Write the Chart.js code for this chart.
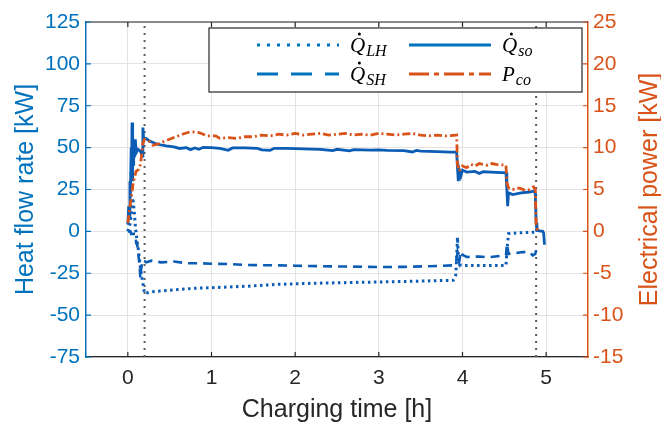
<!DOCTYPE html>
<html>
<head>
<meta charset="utf-8">
<script src="https://cdn.jsdelivr.net/npm/chart.js@4.4.1/dist/chart.umd.min.js"></script>
<style>
  html, body { margin: 0; padding: 0; background: #fff; }
  canvas { display: block; }
</style>
</head>
<body>
<canvas id="chart" width="661" height="423"></canvas>
<script>
// Axis ticks
const xTicks = [0, 1, 2, 3, 4, 5];
const markerTimes = [0.2, 4.88];   // dotted vertical markers [h]

// Q_so (solid) [kW]
const soTime  = [0, 0.01, 0.02, 0.025, 0.03, 0.04, 0.045, 0.05, 0.055, 0.06, 0.065, 0.07, 0.08, 0.09, 0.1, 0.12, 0.15, 0.17, 0.18, 0.19, 0.2, 0.26, 0.35, 0.46, 0.55, 0.62, 0.7, 0.75, 0.8, 0.85, 0.9, 1.0, 1.1, 1.2, 1.25, 1.4, 1.55, 1.6, 1.7, 1.75, 1.9, 2.1, 2.3, 2.45, 2.5, 2.65, 2.7, 2.9, 3.0, 3.1, 3.3, 3.4, 3.45, 3.5, 3.7, 3.85, 3.93, 3.94, 3.95, 3.96, 3.98, 4.0, 4.05, 4.15, 4.2, 4.25, 4.4, 4.52, 4.53, 4.54, 4.55, 4.6, 4.7, 4.8, 4.85, 4.87, 4.88, 4.89, 4.96, 4.97, 4.98];
const soValue = [4, 15, 8, 30, 20, 50, 35, 65, 30, 58, 40, 52, 45, 55, 47, 49, 48, 45, 62, 55, 56, 54, 52, 51, 50.5, 49.5, 50, 48.8, 49.8, 49, 50.2, 50, 49.5, 48.4, 49.8, 49.9, 49.5, 48.7, 48.4, 49.6, 49.5, 49.2, 49, 48.2, 49, 48.1, 48.8, 48.5, 48.7, 48.3, 48.2, 47.4, 48.3, 47.9, 47.6, 47.3, 47.3, 38, 30, 37, 33, 36.5, 35.4, 35.8, 34.6, 35.6, 35.2, 35, 25, 15, 23, 22, 23, 23.5, 24, 23, 5, 0.5, 0, -1, -8];

// Q_SH (dashed) [kW]
const shTime  = [0, 0.03, 0.04, 0.09, 0.1, 0.11, 0.14, 0.15, 0.16, 0.18, 0.22, 0.28, 0.4, 0.55, 0.7, 0.85, 1.0, 1.2, 1.4, 1.6, 1.8, 2.0, 2.3, 2.6, 3.0, 3.3, 3.6, 3.89, 3.92, 3.94, 3.96, 3.98, 4.0, 4.05, 4.2, 4.3, 4.52, 4.53, 4.55, 4.6, 4.72, 4.8, 4.84, 4.87, 4.88];
const shValue = [0, 0, -1.5, -1.5, -7, -7, -20, -28, -22, -17, -18.5, -17.5, -18.5, -18, -19, -19, -19.3, -19.5, -20, -20.2, -20.3, -20.5, -20.8, -21, -21.3, -21.2, -20.8, -20.3, -19, -13, -18, -12, -14, -15.3, -15, -15.5, -14.3, -7.5, -13.5, -13.2, -12.3, -12.5, -14.3, -13.5, -11.3];

// Q_LH (dotted) [kW]
const lhTime  = [0, 0.03, 0.06, 0.08, 0.09, 0.11, 0.13, 0.15, 0.17, 0.2, 0.3, 0.42, 0.6, 0.8, 1.0, 1.4, 1.8, 2.2, 2.6, 3.0, 3.4, 3.89, 3.92, 3.94, 3.95, 3.97, 4.0, 4.2, 4.52, 4.53, 4.55, 4.7, 4.88];
const lhValue = [0, 5, 20, 10, 3, -6, -12, -22, -28, -37, -36, -35.5, -34.7, -34, -33.6, -32.8, -31.6, -31, -30.6, -30.2, -29.8, -29.2, -26, -3.5, -15, -20, -20.3, -20.3, -20.3, -12, -1.4, -0.8, -0.4];

// P_co (dash-dot, right axis) [kW]
const coTime  = [0, 0.02, 0.04, 0.06, 0.08, 0.1, 0.13, 0.15, 0.17, 0.18, 0.2, 0.25, 0.3, 0.35, 0.45, 0.55, 0.65, 0.75, 0.85, 0.95, 1.05, 1.1, 1.2, 1.3, 1.4, 1.5, 1.6, 1.7, 1.8, 1.9, 2.0, 2.1, 2.2, 2.3, 2.4, 2.5, 2.6, 2.7, 2.8, 2.9, 3.0, 3.1, 3.2, 3.3, 3.4, 3.5, 3.6, 3.7, 3.8, 3.93, 3.94, 3.96, 4.0, 4.05, 4.1, 4.15, 4.2, 4.3, 4.35, 4.4, 4.52, 4.53, 4.55, 4.6, 4.65, 4.7, 4.75, 4.8, 4.85, 4.87, 4.88, 4.9, 4.92];
const coValue = [1, 2.5, 4, 5.5, 6.5, 7.2, 7.4, 8, 9.5, 10.5, 11, 10.8, 10.3, 10.4, 10.8, 11.2, 11.6, 11.9, 11.8, 11.4, 11.4, 11.1, 11.2, 11.1, 11.3, 11.3, 11.5, 11.4, 11.6, 11.5, 11.7, 11.5, 11.6, 11.7, 11.5, 11.6, 11.7, 11.5, 11.6, 11.5, 11.7, 11.6, 11.5, 11.6, 11.7, 11.5, 11.4, 11.5, 11.4, 11.5, 8, 7.2, 7.8, 7.6, 8, 7.8, 8.1, 7.9, 8.1, 8, 7.9, 5.8, 5.2, 5, 5.2, 5.1, 4.9, 5, 5.3, 5, 0.8, 0.2, 0.2];

const BLUE = '#0b5cb5';
const AXIS_BLUE = '#0072bd';
const ORANGE = '#d95319';
const DARK = '#262626';
const FONT = "'Liberation Sans', Arial, sans-serif";

const pts = (t, v) => t.map((x, i) => ({ x: x, y: v[i] }));

const markerSets = markerTimes.map(t => ({
    data: [{ x: t, y: -75 }, { x: t, y: 125 }],
    yAxisID: 'y',
    borderColor: '#5a5a5a',
    borderWidth: 2,
    borderDash: [2, 5],
    pointRadius: 0
}));

// MATLAB style inward ticks, box top edge and right axis title
const axesDecor = {
    id: 'axesDecor',
    afterDraw(chart) {
        const { ctx, chartArea: a, scales } = chart;
        ctx.save();
        ctx.lineWidth = 1.2;

        ctx.strokeStyle = DARK;
        ctx.beginPath();
        ctx.moveTo(a.left, a.top);
        ctx.lineTo(a.right, a.top);
        scales.x.ticks.forEach(t => {
            const px = scales.x.getPixelForValue(t.value);
            ctx.moveTo(px, a.bottom); ctx.lineTo(px, a.bottom - 5);
            ctx.moveTo(px, a.top); ctx.lineTo(px, a.top + 5);
        });
        ctx.stroke();

        ctx.strokeStyle = AXIS_BLUE;
        ctx.beginPath();
        scales.y.ticks.forEach(t => {
            const py = scales.y.getPixelForValue(t.value);
            ctx.moveTo(a.left, py); ctx.lineTo(a.left + 5, py);
        });
        ctx.stroke();

        ctx.strokeStyle = ORANGE;
        ctx.beginPath();
        scales.y1.ticks.forEach(t => {
            const py = scales.y1.getPixelForValue(t.value);
            ctx.moveTo(a.right, py); ctx.lineTo(a.right - 5, py);
        });
        ctx.stroke();

        // right title reads bottom-to-top
        ctx.translate(650, (a.top + a.bottom) / 2);
        ctx.rotate(-Math.PI / 2);
        ctx.fillStyle = ORANGE;
        ctx.font = '25px ' + FONT;
        ctx.textAlign = 'center';
        ctx.textBaseline = 'middle';
        ctx.fillText('Electrical power [kW]', 0, 0);
        ctx.restore();
    }
};

// legend with math-style labels
const mathLegend = {
    id: 'mathLegend',
    afterDraw(chart) {
        const ctx = chart.ctx;
        ctx.save();
        ctx.fillStyle = '#fff';
        ctx.fillRect(209, 28, 373, 64);
        ctx.strokeStyle = DARK;
        ctx.lineWidth = 1.2;
        ctx.strokeRect(209, 28, 373, 64);

        const items = [
            { x: 257, y: 45, color: AXIS_BLUE, dash: [3, 7], main: 'Q', sub: 'LH', dot: true },
            { x: 409, y: 45, color: AXIS_BLUE, dash: [], main: 'Q', sub: 'so', dot: true },
            { x: 257, y: 74, color: AXIS_BLUE, dash: [21, 13], main: 'Q', sub: 'SH', dot: true },
            { x: 409, y: 74, color: ORANGE, dash: [20, 5, 5, 5], main: 'P', sub: 'co', dot: false }
        ];
        items.forEach(it => {
            ctx.strokeStyle = it.color;
            ctx.lineWidth = 3;
            ctx.setLineDash(it.dash);
            ctx.beginPath();
            ctx.moveTo(it.x, it.y);
            ctx.lineTo(it.x + 82, it.y);
            ctx.stroke();
            ctx.setLineDash([]);

            const tx = it.x + 93;
            const base = it.y + 7;
            ctx.fillStyle = '#000';
            ctx.textBaseline = 'alphabetic';
            ctx.textAlign = 'left';
            ctx.font = "italic 21px 'Liberation Serif', 'DejaVu Serif', serif";
            ctx.fillText(it.main, tx, base);
            const w = ctx.measureText(it.main).width;
            if (it.dot) {
                ctx.beginPath();
                ctx.arc(tx + w * 0.62, base - 18, 1.5, 0, Math.PI * 2);
                ctx.fill();
            }
            ctx.font = "italic 16px 'Liberation Serif', 'DejaVu Serif', serif";
            ctx.fillText(it.sub, tx + w + 1, base + 4);
        });
        ctx.restore();
    }
};

new Chart(document.getElementById('chart'), {
    type: 'line',
    data: {
        datasets: [
            { label: 'P_co', data: pts(coTime, coValue), yAxisID: 'y1', borderColor: ORANGE, borderWidth: 2.8, borderDash: [8, 3, 2, 3], pointRadius: 0 },
            { label: 'Q_so', data: pts(soTime, soValue), yAxisID: 'y', borderColor: BLUE, borderWidth: 2.8, pointRadius: 0 },
            { label: 'Q_SH', data: pts(shTime, shValue), yAxisID: 'y', borderColor: BLUE, borderWidth: 2.6, borderDash: [9, 6], pointRadius: 0 },
            { label: 'Q_LH', data: pts(lhTime, lhValue), yAxisID: 'y', borderColor: BLUE, borderWidth: 3, borderDash: [2.5, 3.5], pointRadius: 0 },
            ...markerSets
        ]
    },
    options: {
        responsive: false,
        animation: false,
        devicePixelRatio: 1,
        layout: { padding: { top: 22, left: 0, right: 0, bottom: 0 } },
        plugins: {
            legend: { display: false },
            tooltip: { enabled: false }
        },
        scales: {
            x: {
                type: 'linear',
                min: -0.5,
                max: 5.5,
                afterBuildTicks: s => { s.ticks = xTicks.map(v => ({ value: v })); },
                afterFit: s => { s.height = 66; },
                grid: { color: '#e3e3e3', lineWidth: 1, drawTicks: false },
                border: { color: DARK, width: 1.2 },
                ticks: { color: DARK, padding: 9, font: { family: FONT, size: 21 } },
                title: { display: true, text: 'Charging time [h]', color: DARK, padding: 0, font: { family: FONT, size: 25, lineHeight: 1 } }
            },
            y: {
                position: 'left',
                min: -75,
                max: 125,
                afterFit: s => { s.width = 86; },
                grid: { color: '#e3e3e3', lineWidth: 1, drawTicks: false },
                border: { color: AXIS_BLUE, width: 1.5 },
                ticks: { stepSize: 25, color: AXIS_BLUE, padding: 6, font: { family: FONT, size: 21 } },
                title: { display: true, text: 'Heat flow rate [kW]', color: AXIS_BLUE, padding: { top: 14, bottom: 0 }, font: { family: FONT, size: 25, lineHeight: 1 } }
            },
            y1: {
                position: 'right',
                min: -15,
                max: 25,
                afterFit: s => { s.width = 73; },
                grid: { display: false, drawTicks: false },
                border: { color: ORANGE, width: 1.5 },
                ticks: { stepSize: 5, color: ORANGE, padding: 5, font: { family: FONT, size: 21 } }
            }
        }
    },
    plugins: [axesDecor, mathLegend]
});
</script>
</body>
</html>
